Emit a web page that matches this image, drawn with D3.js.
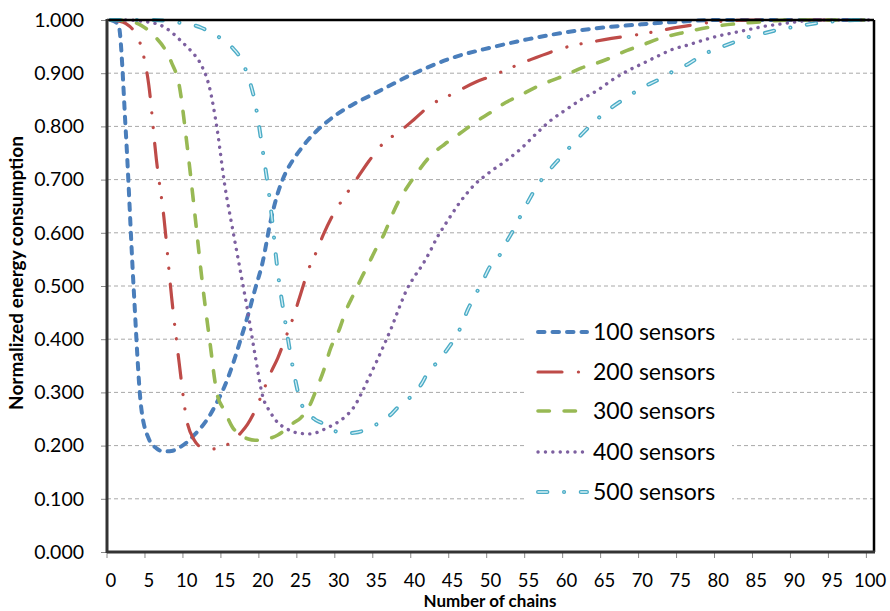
<!DOCTYPE html>
<html>
<head>
<meta charset="utf-8">
<script src="https://cdn.jsdelivr.net/npm/d3@7"></script>
<style>
  html, body { margin: 0; padding: 0; background: #fff; }
  svg { display: block; }
  text { font-family: Lato, "Open Sans", sans-serif; fill: #000; }
</style>
</head>
<body>
<svg id="chart" width="890" height="611"></svg>
<script>
// ---------------- data ----------------
const categories = d3.range(0, 101);            // x categories 0..100
const xTickLabels = d3.range(0, 101, 5);        // labelled every 5
const yTickValues = [0, 0.1, 0.2, 0.3, 0.4, 0.5, 0.6, 0.7, 0.8, 0.9, 1.0];

const seriesNames = ["100 sensors", "200 sensors", "300 sensors", "400 sensors", "500 sensors"];

const s100X = [0,1,2,3,4,5,6,7,8,9,10,11,12,13,14,15,16,17,18,19,20,21,22,23,24,25,26,27,28,30,32,35,40,45,50,55,60,65,70,75,80,85,90,95,100];
const s100Y = [1.000,0.992,0.784,0.499,0.272,0.213,0.195,0.189,0.190,0.196,0.206,0.220,0.236,0.256,0.282,0.312,0.350,0.395,0.442,0.494,0.545,0.619,0.675,0.712,0.737,0.757,0.775,0.790,0.803,0.825,0.842,0.864,0.900,0.929,0.948,0.964,0.977,0.986,0.992,0.997,1.000,1.000,1.000,1.000,1.000];

const s200X = [0,1,2,3,4,5,6,7,8,9,10,11,12,13,14,15,16,17,18,19,20,21,22,23,24,25,26,27,28,29,30,32,34,36,38,40,42,45,48,50,55,60,65,70,75,80,85,90,95,100];
const s200Y = [1.000,0.998,0.993,0.980,0.950,0.878,0.738,0.628,0.480,0.356,0.248,0.210,0.196,0.193,0.195,0.200,0.207,0.222,0.240,0.266,0.300,0.335,0.365,0.402,0.440,0.485,0.530,0.562,0.597,0.627,0.651,0.693,0.735,0.770,0.790,0.814,0.839,0.861,0.883,0.894,0.924,0.949,0.963,0.974,0.987,0.997,1.000,1.000,1.000,1.000];

const s300X = [0,1,2,3,4,5,6,7,8,9,10,11,12,13,14,15,16,17,18,19,20,21,22,23,24,25,26,27,28,29,30,31,32,33,34,35,36,37,38,39,40,42,44,46,48,50,52,54,56,58,60,62,64,66,68,70,72,75,80,85,90,95,100];
const s300Y = [1.000,1.000,0.998,0.996,0.990,0.980,0.966,0.948,0.920,0.878,0.770,0.644,0.513,0.400,0.297,0.265,0.235,0.220,0.213,0.210,0.211,0.214,0.220,0.230,0.242,0.252,0.270,0.303,0.340,0.385,0.415,0.455,0.485,0.515,0.543,0.572,0.598,0.632,0.662,0.685,0.706,0.743,0.767,0.787,0.808,0.826,0.845,0.859,0.874,0.886,0.897,0.910,0.919,0.930,0.943,0.953,0.964,0.975,0.989,0.996,1.000,1.000,1.000];

const s400X = [0,2,4,5,6,7,8,9,10,11,12,13,14,15,16,17,18,19,20,21,22,23,24,25,26,27,28,29,30,31,32,33,34,35,36,37,38,39,40,41,42,43,44,45,46,47,48,49,50,52,54,56,58,60,62,64,66,68,70,72,74,76,78,80,82,84,86,88,90,92,95,100];
const s400Y = [1.000,1.000,0.998,0.996,0.993,0.987,0.977,0.964,0.950,0.935,0.913,0.873,0.795,0.690,0.610,0.533,0.455,0.370,0.293,0.263,0.243,0.233,0.226,0.223,0.222,0.224,0.230,0.237,0.245,0.256,0.272,0.298,0.328,0.358,0.390,0.423,0.460,0.494,0.518,0.539,0.564,0.592,0.615,0.637,0.658,0.676,0.692,0.704,0.715,0.735,0.758,0.786,0.812,0.832,0.851,0.867,0.887,0.904,0.918,0.932,0.945,0.953,0.962,0.970,0.976,0.982,0.988,0.992,0.996,0.999,1.000,1.000];

const s500X = [0,5,7,8,9,10,11,12,13,14,15,16,17,18,19,20,21,22,23,24,25,26,27,28,29,30,31,32,33,34,35,36,37,38,39,40,41,42,43,44,45,46,47,48,49,50,51,52,53,54,55,56,57,58,59,60,62,64,66,68,70,72,74,76,78,80,82,84,86,88,90,92,94,96,98,100];
const s500Y = [1.000,1.000,0.999,0.997,0.995,0.993,0.990,0.985,0.978,0.970,0.960,0.948,0.930,0.897,0.845,0.755,0.655,0.525,0.430,0.345,0.282,0.260,0.248,0.241,0.231,0.225,0.223,0.224,0.227,0.233,0.240,0.249,0.260,0.275,0.286,0.298,0.318,0.344,0.356,0.375,0.395,0.420,0.455,0.483,0.510,0.538,0.553,0.580,0.605,0.633,0.660,0.685,0.705,0.722,0.738,0.754,0.785,0.813,0.836,0.855,0.873,0.887,0.903,0.917,0.935,0.947,0.958,0.968,0.975,0.982,0.987,0.992,0.996,0.998,1.000,1.000];

const seriesX = [s100X, s200X, s300X, s400X, s500X];
const seriesY = [s100Y, s200Y, s300Y, s400Y, s500Y];
const colors = ["#4A7EBB", "#BE4B48", "#98B954", "#7D60A0", "#4BACC6"];

// ---------------- layout ----------------
const plot = { left: 107, right: 874, top: 20, bottom: 552 };
const svg = d3.select("#chart");

const x = d3.scaleBand().domain(categories).range([plot.left, plot.right]).padding(0);
const xc = v => x(v) + x.bandwidth() / 2;
const y = d3.scaleLinear().domain([0, 1]).range([plot.bottom, plot.top]);

// gridlines
svg.append("g").selectAll("line")
  .data(yTickValues.filter(v => v > 0 && v < 1))
  .join("line")
  .attr("x1", plot.left).attr("x2", plot.right)
  .attr("y1", d => y(d)).attr("y2", d => y(d))
  .attr("stroke", "#a8a8a8").attr("stroke-width", 1)
  .attr("stroke-dasharray", "4,3");

// y axis
const yAxis = d3.axisLeft(y).tickValues(yTickValues).tickFormat(d3.format(".3f")).tickSize(6).tickPadding(17);
const gy = svg.append("g").attr("transform", `translate(${plot.left},0)`).call(yAxis);
gy.select(".domain").remove();
gy.selectAll(".tick line").attr("stroke", "#888");
gy.selectAll(".tick text").style("font-size", "19.5px").style("font-family", "Lato, sans-serif").attr("fill", "#000");

// x axis: tick marks at band boundaries, labels at band centres
const gx = svg.append("g");
gx.selectAll("line")
  .data(xTickLabels)
  .join("line")
  .attr("x1", d => x(d)).attr("x2", d => x(d))
  .attr("y1", plot.bottom).attr("y2", plot.bottom + 6)
  .attr("stroke", "#888");
gx.selectAll("text")
  .data(xTickLabels)
  .join("text")
  .attr("x", d => xc(d)).attr("y", 586.5)
  .attr("text-anchor", "middle")
  .style("font-size", "18.5px")
  .text(d => d);

// series
svg.append("defs").append("clipPath").attr("id", "pclip")
  .append("rect").attr("x", plot.left).attr("y", plot.top - 3)
  .attr("width", plot.right - plot.left).attr("height", plot.bottom - plot.top + 3);

const line = d3.line().x(d => xc(d[0])).y(d => y(d[1])).curve(d3.curveMonotoneX);
const styles = [
  { w: 4, dash: "6.5,8" },
  { w: 3.2, dash: "24,16.4,0.1,14.4,0.1,15.8" },
  { w: 3.6, dash: "11.4,14.7" },
  { w: 3.4, dash: "0.1,7.3" },
  { w: 4, dash: "9.4,16.6,0.1,16.6" }
];
const gl = svg.append("g").attr("clip-path", "url(#pclip)");
seriesX.forEach((xs, i) => {
  const pts = xs.map((v, j) => [v, seriesY[i][j]]);
  gl.append("path").datum(pts)
    .attr("d", line).attr("fill", "none")
    .attr("stroke", colors[i]).attr("stroke-width", styles[i].w)
    .attr("stroke-linecap", "round").attr("stroke-linejoin", "round")
    .attr("stroke-dasharray", styles[i].dash);
  if (i === 4) {
    gl.append("path").datum(pts)
      .attr("d", line).attr("fill", "none")
      .attr("stroke", "#d6eff5").attr("stroke-width", 1.3)
      .attr("stroke-linecap", "round")
      .attr("stroke-dasharray", styles[i].dash);
  }
});

// plot border
svg.append("line").attr("x1", plot.left).attr("x2", plot.right).attr("y1", plot.top).attr("y2", plot.top)
  .attr("stroke", "#000").attr("stroke-width", 2.5);
svg.append("line").attr("x1", plot.right).attr("x2", plot.right).attr("y1", plot.top).attr("y2", plot.bottom)
  .attr("stroke", "#000").attr("stroke-width", 2.5);
svg.append("line").attr("x1", plot.left).attr("x2", plot.left).attr("y1", plot.top - 1).attr("y2", plot.bottom + 1)
  .attr("stroke", "#333").attr("stroke-width", 3);
svg.append("line").attr("x1", plot.left).attr("x2", plot.right + 1).attr("y1", plot.bottom).attr("y2", plot.bottom)
  .attr("stroke", "#333").attr("stroke-width", 3);

// legend
const leg = svg.append("g");
leg.append("rect").attr("x", 527).attr("y", 310).attr("width", 205).attr("height", 203).attr("fill", "#fff");
const rowY = [332, 372, 411, 452, 492];
seriesNames.forEach((name, i) => {
  leg.append("line")
    .attr("x1", 538).attr("x2", 587).attr("y1", rowY[i]).attr("y2", rowY[i])
    .attr("stroke", colors[i]).attr("stroke-width", styles[i].w)
    .attr("stroke-linecap", "round").attr("stroke-dasharray", styles[i].dash);
  if (i === 4) {
    leg.append("line")
      .attr("x1", 538).attr("x2", 587).attr("y1", rowY[i]).attr("y2", rowY[i])
      .attr("stroke", "#d6eff5").attr("stroke-width", 1.3)
      .attr("stroke-linecap", "round").attr("stroke-dasharray", styles[i].dash);
  }
  leg.append("text").attr("x", 593).attr("y", rowY[i] + 8)
    .style("font-size", "23px").text(name);
});

// axis titles
svg.append("text").attr("x", 490).attr("y", 607.3).attr("text-anchor", "middle")
  .style("font-size", "17px").style("font-weight", "bold").text("Number of chains");
svg.append("text").attr("transform", "translate(23,273) rotate(-90)").attr("text-anchor", "middle")
  .style("font-size", "19px").style("font-weight", "bold").text("Normalized energy consumption");
</script>
</body>
</html>
